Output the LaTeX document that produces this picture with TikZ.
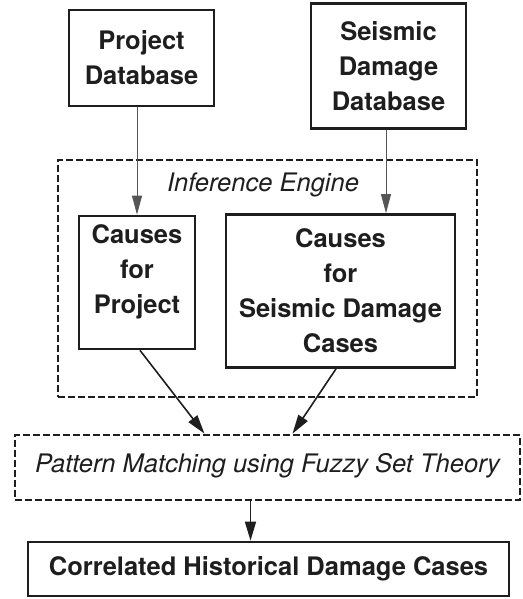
\documentclass[tikz,border=0pt]{standalone}
\usepackage{fontspec}
\setmainfont{TeX Gyre Heros}
\usetikzlibrary{arrows.meta,calc}
\definecolor{ink}{HTML}{1E1E1E}
\begin{document}
\begin{tikzpicture}[x=1pt,y=-1pt,
  solidbox/.style={draw=ink, line width=2.7pt, inner sep=0pt, align=center, text=ink,
     font=\bfseries\fontsize{25.5}{35}\selectfont},
  dashbox/.style={draw=ink, line width=2.7pt, dash pattern=on 7pt off 3pt, inner sep=0pt},
  boldtext/.style={inner sep=0pt, align=center, text=ink, font=\bfseries\fontsize{25.5}{35}\selectfont},
  italtext/.style={inner sep=0pt, text=ink, font=\itshape\fontsize{25.5}{30}\selectfont},
  thinarrow/.style={draw=ink!75, line width=0.9pt, -{Triangle[length=19pt,width=10pt]}},
  thickarrow/.style={draw=ink, line width=1.6pt, -{Triangle[length=19pt,width=11pt]}}
]
\useasboundingbox (0,0) rectangle (522,599);
\node[solidbox, minimum width=145pt, minimum height=96pt] (pd) at (141.5,58) {Project\\Database};
\node[solidbox, minimum width=155pt, minimum height=125pt] (sd) at (388.5,66) {Seismic\\Damage\\Database};
\node[dashbox, minimum width=419pt, minimum height=237pt] (ie) at (267.5,278.5) {};
\node[italtext] (iet) at (263,185) {Inference Engine};
\node[solidbox, minimum width=116pt, minimum height=133pt] (cp) at (137,282.5) {};
\node[boldtext] (cpt) at (137,272) {Causes\\for\\Project};
\node[solidbox, minimum width=229pt, minimum height=153pt] (cs) at (340.5,291) {Causes\\for\\Seismic Damage\\Cases};
\node[dashbox, minimum width=505pt, minimum height=65pt] (pm) at (267.5,467.5) {};
\node[italtext] (pmt) at (267.5,466) {Pattern Matching using Fuzzy Set Theory};
\node[solidbox, minimum width=481pt, minimum height=54pt] (ch) at (268.5,569) {Correlated Historical Damage Cases};
\draw[thinarrow] (pd.south -| cp.north) -- (cp.north);
\draw[thinarrow] ([xshift=-2.5pt]sd.south) -- ([xshift=-2.5pt]sd.south |- cs.north);
\draw[thickarrow] ([xshift=3pt]cp.south) -- ([xshift=-63pt]pm.north);
\draw[thickarrow] ([xshift=-4.5pt]cs.south) -- ([xshift=25pt]pm.north);
\draw[thickarrow] ([xshift=-17pt]pm.south) -- ([xshift=-17pt]pm.south |- ch.north);
\end{tikzpicture}
\end{document}
